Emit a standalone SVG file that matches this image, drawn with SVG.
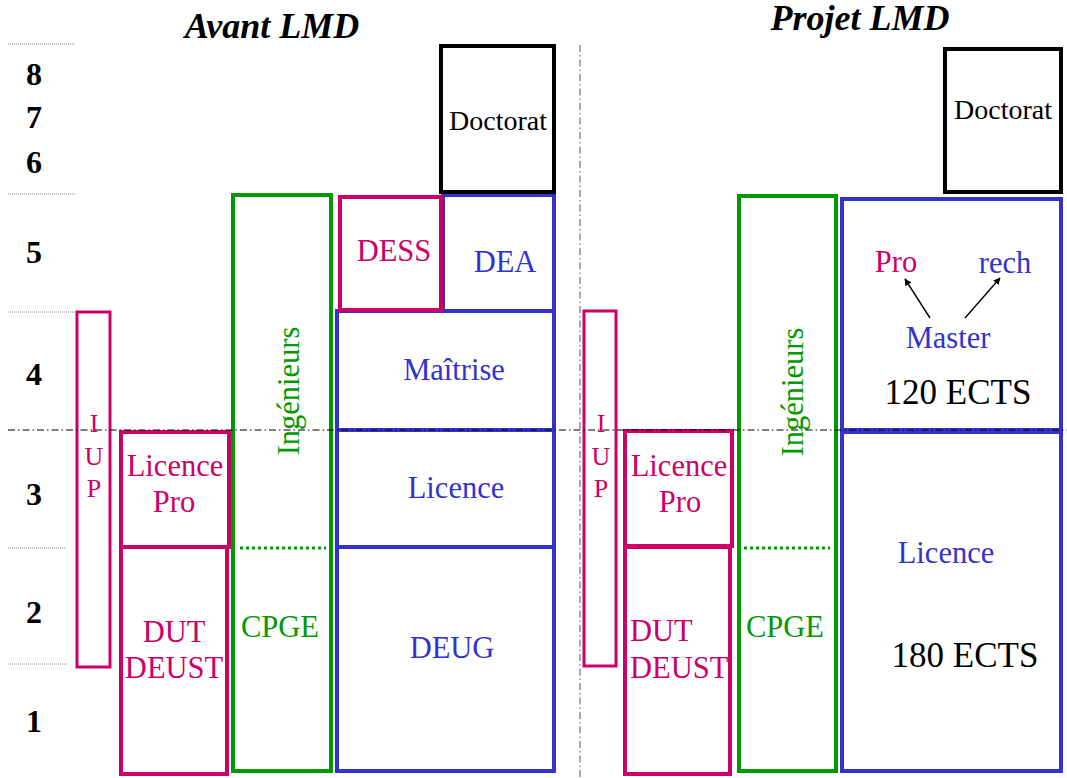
<svg xmlns="http://www.w3.org/2000/svg" width="1067" height="778" viewBox="0 0 1067 778">
  <style>
    .box { fill: none; stroke-width: 4; }
    .pink { stroke: #CC0066; }
    .green { stroke: #009900; }
    .blue { stroke: #3333CC; }
    .black { stroke: #000000; }
    text { font-family: "Liberation Serif", serif; text-anchor: middle; }
    .lbl { font-size: 30.5px; }
    .tp { fill: #CC0066; }
    .tg { fill: #009900; }
    .tb { fill: #3333CC; }
    .num { font-size: 32px; font-weight: bold; fill: #000; }
    .title { font-size: 36px; font-weight: bold; font-style: italic; fill: #000; }
    .doc { font-size: 28px; fill: #000; }
    .iup { font-size: 26px; fill: #CC0066; }
    .ects { font-size: 35px; fill: #000; }
    .tick { stroke: #888; stroke-width: 1; stroke-dasharray: 1 1; }
    .axis { stroke: #000; stroke-width: 1; stroke-dasharray: 7 3 1.5 3; fill: none; }
    .dots { stroke: #009900; stroke-width: 3; stroke-dasharray: 3 3; }
    .arrow { stroke: #000; stroke-width: 1.4; marker-end: url(#head); }
  </style>
  <defs>
    <marker id="head" viewBox="0 0 10 10" refX="9" refY="5" markerWidth="7" markerHeight="7" markerUnits="userSpaceOnUse" orient="auto">
      <path d="M0,0 L10,5 L0,10 z" fill="#000"/>
    </marker>
  </defs>

  <rect width="1067" height="778" fill="#ffffff"/>

  <!-- titles -->
  <text class="title" x="272" y="38" font-family="Liberation Serif">Avant LMD</text>
  <text class="title" x="860" y="30" font-family="Liberation Serif">Projet LMD</text>

  <!-- year scale -->
  <g id="scale">
    <line class="tick" x1="8" y1="44" x2="75" y2="44"/>
    <line class="tick" x1="8" y1="194" x2="75" y2="194"/>
    <line class="tick" x1="8" y1="312" x2="75" y2="312"/>
    <line class="tick" x1="8" y1="548" x2="66" y2="548"/>
    <line class="tick" x1="8" y1="664" x2="68" y2="664"/>
    <text class="num" x="34" y="85" font-family="Liberation Serif">8</text>
    <text class="num" x="34" y="128" font-family="Liberation Serif">7</text>
    <text class="num" x="34" y="173" font-family="Liberation Serif">6</text>
    <text class="num" x="34" y="263" font-family="Liberation Serif">5</text>
    <text class="num" x="34" y="385" font-family="Liberation Serif">4</text>
    <text class="num" x="34" y="505" font-family="Liberation Serif">3</text>
    <text class="num" x="34" y="623" font-family="Liberation Serif">2</text>
    <text class="num" x="34" y="732" font-family="Liberation Serif">1</text>
  </g>

  <!-- before LMD -->
  <g id="avant-iup">
    <rect class="box pink" x="77" y="312" width="33" height="355" style="stroke-width:3"/>
    <text class="iup" x="94" y="432" font-family="Liberation Serif">I</text>
    <text class="iup" x="94" y="465" font-family="Liberation Serif">U</text>
    <text class="iup" x="94" y="497" font-family="Liberation Serif">P</text>
  </g>
  <g id="avant-licence-pro">
    <rect class="box pink" x="121" y="432" width="108" height="115"/>
    <text class="lbl tp" x="175" y="476" font-family="Liberation Serif">Licence</text>
    <text class="lbl tp" x="174" y="512" font-family="Liberation Serif">Pro</text>
  </g>
  <g id="avant-dut">
    <rect class="box pink" x="121" y="547" width="106" height="227"/>
    <text class="lbl tp" x="174" y="642" font-family="Liberation Serif">DUT</text>
    <text class="lbl tp" x="174" y="678" font-family="Liberation Serif">DEUST</text>
  </g>
  <g id="avant-ingenieurs">
    <rect class="box green" x="233" y="195" width="98" height="576"/>
    <text class="lbl tg" transform="translate(299,391) rotate(-90)" font-family="Liberation Serif">Ing&#233;nieurs</text>
    <line class="dots" x1="240" y1="548" x2="326" y2="548"/>
    <text class="lbl tg" x="280" y="637" font-family="Liberation Serif">CPGE</text>
  </g>
  <g id="avant-deug">
    <rect class="box blue" x="337" y="547" width="217" height="224"/>
    <text class="lbl tb" x="452" y="658" font-family="Liberation Serif">DEUG</text>
  </g>
  <g id="avant-licence">
    <rect class="box blue" x="337" y="430" width="217" height="117"/>
    <text class="lbl tb" x="456" y="498" font-family="Liberation Serif">Licence</text>
  </g>
  <g id="avant-maitrise">
    <rect class="box blue" x="337" y="311" width="217" height="119"/>
    <text class="lbl tb" x="454" y="380" font-family="Liberation Serif">Ma&#238;trise</text>
  </g>
  <g id="avant-dea">
    <rect class="box blue" x="443" y="195" width="111" height="116"/>
    <text class="lbl tb" x="505" y="272" font-family="Liberation Serif">DEA</text>
  </g>
  <g id="avant-dess">
    <rect class="box pink" x="340" y="197" width="101" height="113"/>
    <text class="lbl tp" x="394" y="261" font-family="Liberation Serif">DESS</text>
  </g>
  <g id="avant-doctorat">
    <rect class="box black" x="441" y="46" width="113" height="146"/>
    <text class="doc" x="498" y="130" font-family="Liberation Serif">Doctorat</text>
  </g>

  <!-- LMD project -->
  <g id="lmd-iup">
    <rect class="box pink" x="584" y="311" width="32" height="355" style="stroke-width:3"/>
    <text class="iup" x="601" y="432" font-family="Liberation Serif">I</text>
    <text class="iup" x="601" y="465" font-family="Liberation Serif">U</text>
    <text class="iup" x="601" y="497" font-family="Liberation Serif">P</text>
  </g>
  <g id="lmd-licence-pro">
    <rect class="box pink" x="625" y="431" width="107" height="115"/>
    <text class="lbl tp" x="679" y="476" font-family="Liberation Serif">Licence</text>
    <text class="lbl tp" x="680" y="512" font-family="Liberation Serif">Pro</text>
  </g>
  <g id="lmd-dut">
    <rect class="box pink" x="625" y="547" width="105" height="227"/>
    <text class="lbl tp" x="630" y="641" style="text-anchor:start" font-family="Liberation Serif">DUT</text>
    <text class="lbl tp" x="630" y="678" style="text-anchor:start" font-family="Liberation Serif">DEUST</text>
  </g>
  <g id="lmd-ingenieurs">
    <rect class="box green" x="739" y="196" width="97" height="575"/>
    <text class="lbl tg" transform="translate(803,392) rotate(-90)" font-family="Liberation Serif">Ing&#233;nieurs</text>
    <line class="dots" x1="744" y1="548" x2="830" y2="548"/>
    <text class="lbl tg" x="785" y="637" font-family="Liberation Serif">CPGE</text>
  </g>
  <g id="lmd-licence">
    <rect class="box blue" x="842" y="432" width="219" height="339"/>
    <text class="lbl tb" x="946" y="563" font-family="Liberation Serif">Licence</text>
    <text class="ects" x="965" y="667" font-family="Liberation Serif">180 ECTS</text>
  </g>
  <g id="lmd-master">
    <rect class="box blue" x="842" y="199" width="219" height="231"/>
    <text class="lbl tb" x="948" y="348" font-family="Liberation Serif">Master</text>
    <text class="ects" x="958" y="404" font-family="Liberation Serif">120 ECTS</text>
  </g>
  <g id="lmd-pro">
    <text class="lbl tp" x="896" y="272" font-family="Liberation Serif">Pro</text>
  </g>
  <g id="lmd-rech">
    <text class="lbl tb" x="1005" y="273" font-family="Liberation Serif">rech</text>
  </g>
  <g id="lmd-doctorat">
    <rect class="box black" x="945" y="49" width="116" height="143"/>
    <text class="doc" x="1003" y="119" font-family="Liberation Serif">Doctorat</text>
  </g>

  <!-- Master branches -->
  <g id="connectors">
    <line class="arrow" x1="930" y1="318" x2="905" y2="279"/>
    <line class="arrow" x1="965" y1="318" x2="1000" y2="278"/>
  </g>

  <!-- reference axes -->
  <g id="axes">
    <line class="axis" x1="8" y1="430" x2="1067" y2="430"/>
    <line class="axis" x1="580" y1="45" x2="580" y2="778" style="stroke:#555"/>
  </g>
</svg>
